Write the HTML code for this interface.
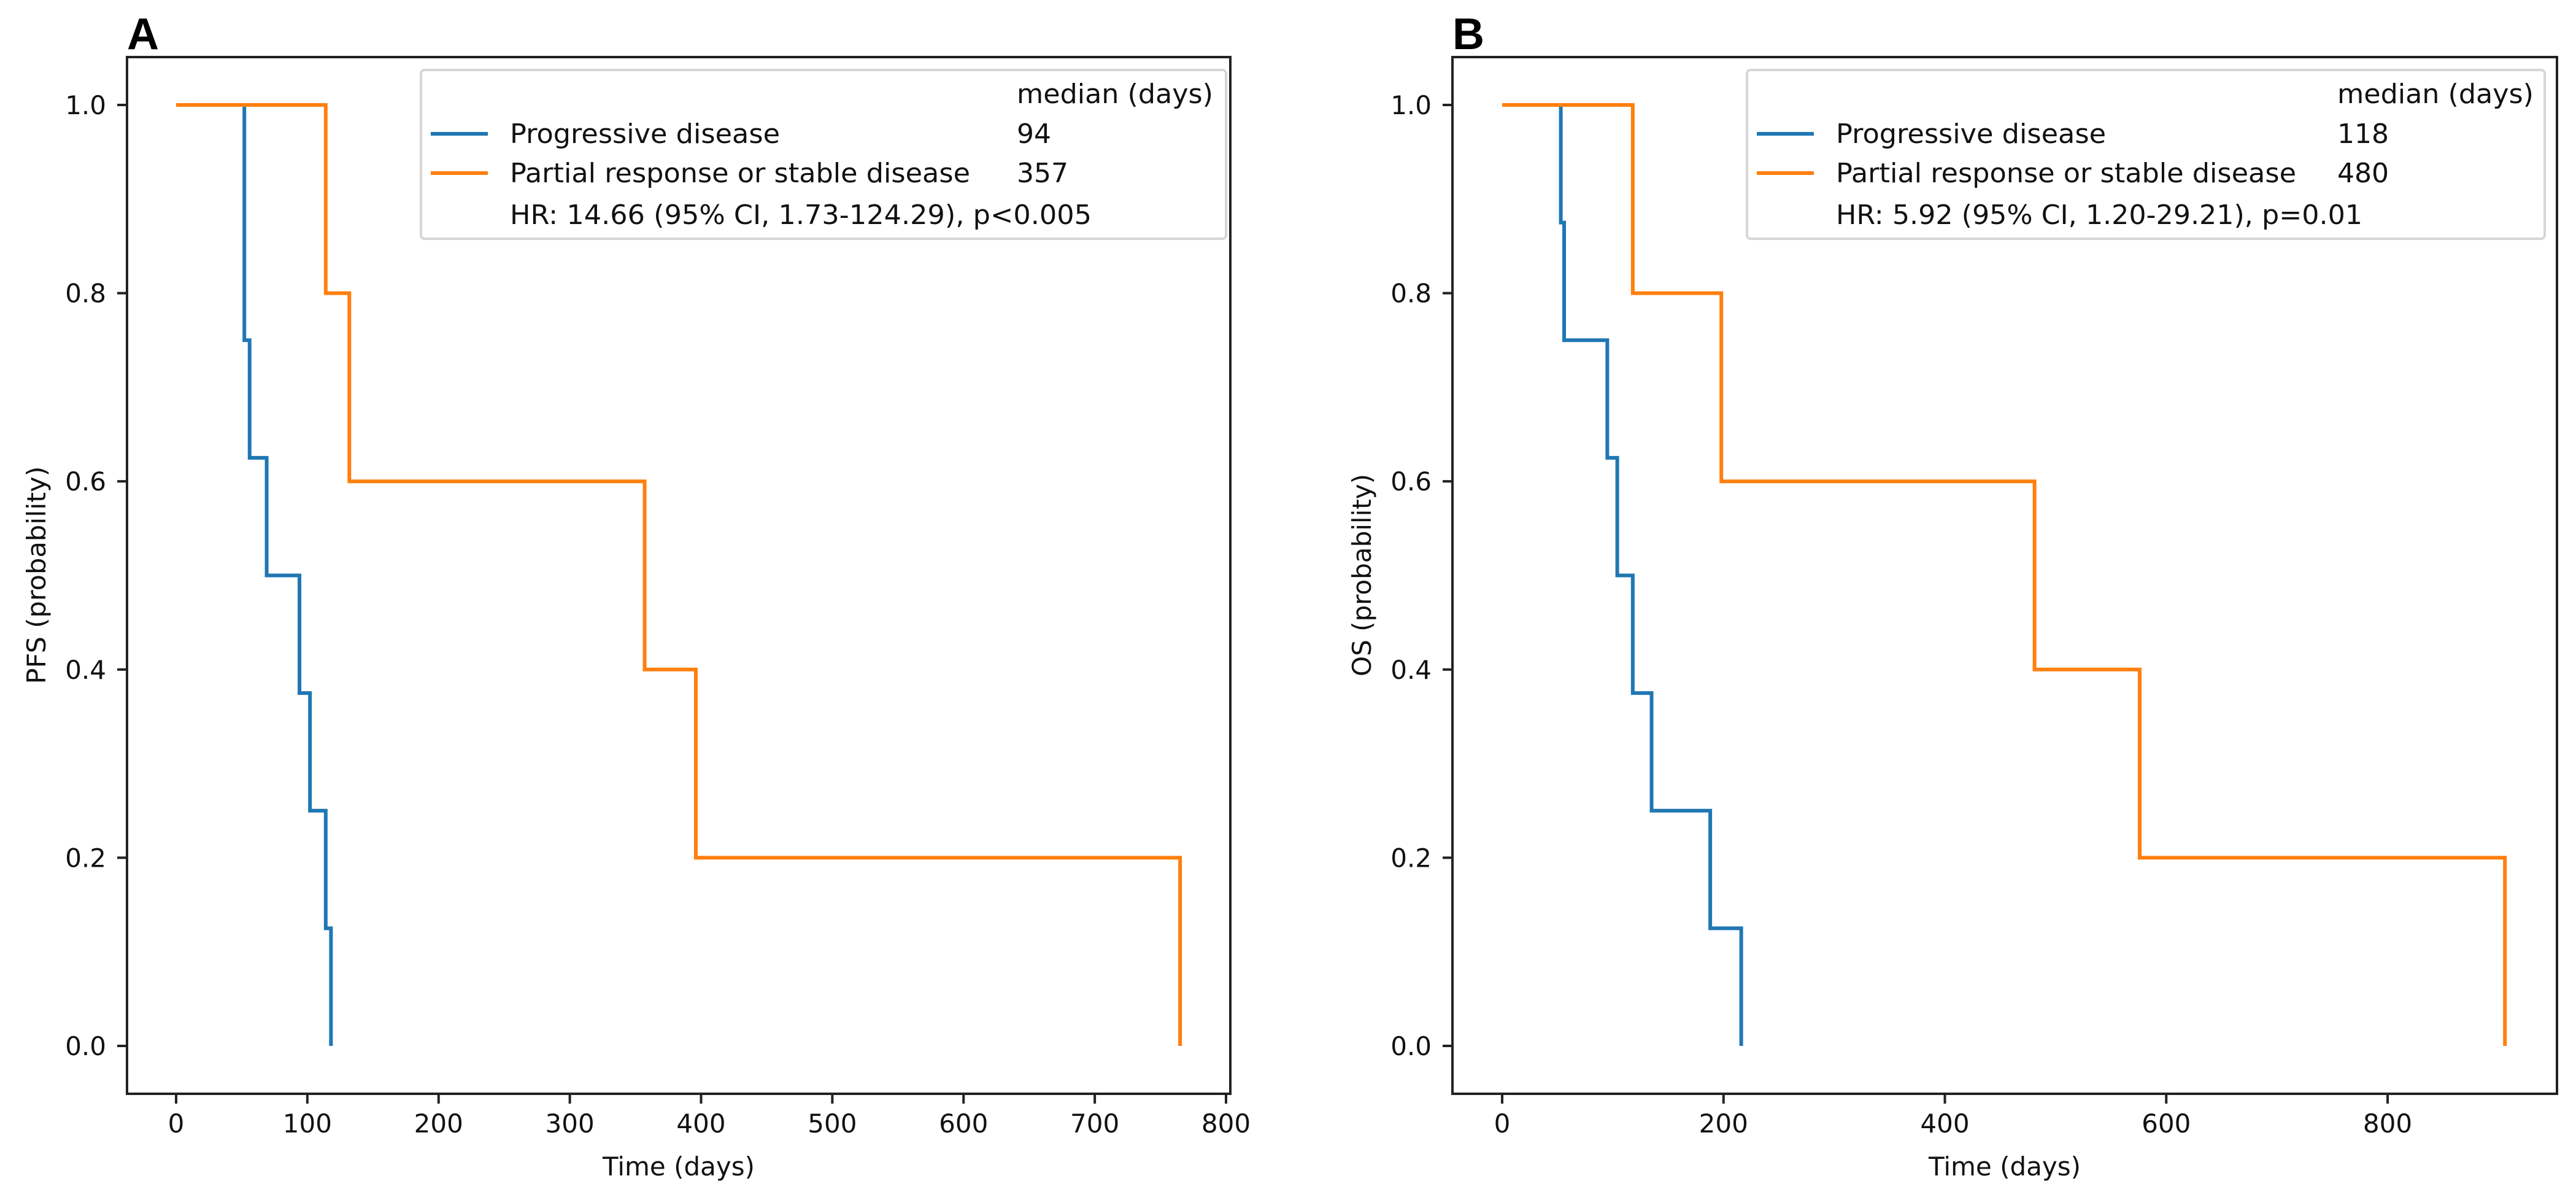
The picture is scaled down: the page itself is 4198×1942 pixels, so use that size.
<!DOCTYPE html>
<html><head><meta charset="utf-8"><style>
html,body{margin:0;padding:0;background:#fff;}
svg{display:block;font-family:"DejaVu Sans","Liberation Sans",sans-serif;}
</style></head><body>
<svg id="fig" width="4198" height="1942" viewBox="0 0 4198 1942" xmlns="http://www.w3.org/2000/svg"></svg>
<script>
// Panel A (PFS)
const aBlueTimes = [0, 52, 56, 69, 94, 102, 114, 118];
const aBlueSurv  = [1, 0.75, 0.625, 0.5, 0.375, 0.25, 0.125, 0];
const aOrangeTimes = [0, 114, 132, 357, 396, 765];
const aOrangeSurv  = [1, 0.8, 0.6, 0.4, 0.2, 0];
const aXTicks = [0, 100, 200, 300, 400, 500, 600, 700, 800];
const aMedians = ["94", "357"];
const aHR = "HR: 14.66 (95% CI, 1.73-124.29), p<0.005";
// Panel B (OS)
const bBlueTimes = [0, 53, 56, 95, 104, 118, 135, 188, 216];
const bBlueSurv  = [1, 0.875, 0.75, 0.625, 0.5, 0.375, 0.25, 0.125, 0];
const bOrangeTimes = [0, 118, 198, 481, 576, 906];
const bOrangeSurv  = [1, 0.8, 0.6, 0.4, 0.2, 0];
const bXTicks = [0, 200, 400, 600, 800];
const bMedians = ["118", "480"];
const bHR = "HR: 5.92 (95% CI, 1.20-29.21), p=0.01";
const yTicks = [0, 0.2, 0.4, 0.6, 0.8, 1.0];
const yTickLabels = ["0.0", "0.2", "0.4", "0.6", "0.8", "1.0"];
const seriesNames = ["Progressive disease", "Partial response or stable disease"];

const NS = "http://www.w3.org/2000/svg";
const svg = document.getElementById("fig");
function mk(tag, attrs, parent, txt){
  const e = document.createElementNS(NS, tag);
  for (const k in attrs) e.setAttribute(k, attrs[k]);
  if (txt !== undefined) e.textContent = txt;
  (parent || svg).appendChild(e);
  return e;
}

function panel(cfg){
  const g = mk("g", {});
  
  
  const X = t => cfg.x0 + t * cfg.sx;
  const Y = v => 1704 + (171 - 1704) * v;
  const L = mk("text", {x: cfg.left, y: 80, "font-size": 72, "font-weight": "bold", "font-family": "Liberation Sans, sans-serif"}, g, cfg.letter);
  
  
  function curve(times, surv, color, name){
    let d = "M" + X(times[0]) + "," + Y(surv[0]);
    for (let i = 1; i < times.length; i++){
      d += " L" + X(times[i]) + "," + Y(surv[i-1]) + " L" + X(times[i]) + "," + Y(surv[i]);
    }
    const p = mk("path", {d: d, fill: "none", stroke: color, "stroke-width": 6}, g);
    
    
  }
  curve(cfg.bT, cfg.bS, "#1f77b4", "blue-curve");
  curve(cfg.oT, cfg.oS, "#ff7f0e", "orange-curve");
  const fr = mk("rect", {x: cfg.left, y: 93, width: cfg.right - cfg.left, height: 1782 - 93, fill: "none", stroke: "#222", "stroke-width": 4}, g);
  
  
  yTicks.forEach((v, i) => {
    mk("line", {x1: cfg.left - 16, x2: cfg.left, y1: Y(v), y2: Y(v), stroke: "#222", "stroke-width": 4}, g);
    const t = mk("text", {x: cfg.left - 34, y: Y(v) + 15, "font-size": 42, "text-anchor": "end", fill: "#111"}, g, yTickLabels[i]);
    
    
  });
  cfg.xt.forEach(v => {
    mk("line", {x1: X(v), x2: X(v), y1: 1782, y2: 1798, stroke: "#222", "stroke-width": 4}, g);
    const t = mk("text", {x: X(v), y: 1845, "font-size": 42, "text-anchor": "middle", fill: "#111"}, g, String(v));
    
    
  });
  const xt = mk("text", {x: (cfg.left + cfg.right) / 2, y: 1915, "font-size": 42, "text-anchor": "middle", fill: "#111"}, g, "Time (days)");
  
  
  const yt = mk("text", {x: 0, y: 0, "font-size": 42, "text-anchor": "middle", fill: "#111", textLength: cfg.ylen, lengthAdjust: "spacingAndGlyphs", transform: "translate(" + (cfg.left - 133) + ",937) rotate(-90)"}, g, cfg.ylabel);
  
  
  const lg = mk("g", {}, g);
  
  
  mk("rect", {x: cfg.lgL, y: 114, width: cfg.lgR - cfg.lgL, height: 275, rx: 6, fill: "#fff", stroke: "#d6d6d6", "stroke-width": 4}, lg);
  const tx = cfg.lgL + 145, nx = cfg.numX;
  const h = mk("text", {x: nx, y: 168, "font-size": 44, fill: "#111", textLength: 320, lengthAdjust: "spacingAndGlyphs"}, lg, "median (days)");
  
  
  const cols = ["#1f77b4", "#ff7f0e"];
  const rows = [218, 282];
  const lens = [440, 750];
  seriesNames.forEach((n, i) => {
    mk("line", {x1: cfg.lgL + 16, x2: cfg.lgL + 109, y1: rows[i], y2: rows[i], stroke: cols[i], "stroke-width": 6}, lg);
    const t = mk("text", {x: tx, y: rows[i] + 15, "font-size": 44, fill: "#111", textLength: lens[i], lengthAdjust: "spacingAndGlyphs"}, lg, n);
    
    
    const m = mk("text", {x: nx, y: rows[i] + 15, "font-size": 44, fill: "#111"}, lg, cfg.med[i]);
    
    
  });
  const hr = mk("text", {x: tx, y: 365, "font-size": 44, fill: "#111", textLength: cfg.hrLen, lengthAdjust: "spacingAndGlyphs"}, lg, cfg.hr);
  
  
}

panel({id: "pfs", letter: "A", left: 207, right: 2005, x0: 287, sx: (1998 - 287) / 800,
  bT: aBlueTimes, bS: aBlueSurv, oT: aOrangeTimes, oS: aOrangeSurv, xt: aXTicks,
  ylabel: "PFS (probability)", ylen: 355, lgL: 686, lgR: 1998, numX: 1657, med: aMedians, hr: aHR, hrLen: 948});
panel({id: "os", letter: "B", left: 2367, right: 4167, x0: 2448, sx: (3891 - 2448) / 800,
  bT: bBlueTimes, bS: bBlueSurv, oT: bOrangeTimes, oS: bOrangeSurv, xt: bXTicks,
  ylabel: "OS (probability)", ylen: 330, lgL: 2847, lgR: 4147, numX: 3809, med: bMedians, hr: bHR, hrLen: 858});
</script>
</body></html>
